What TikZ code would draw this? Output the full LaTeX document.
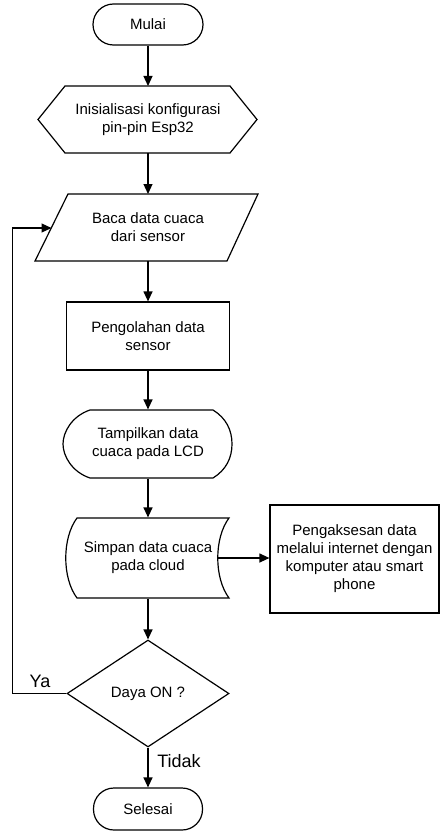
\documentclass[tikz,border=0pt]{standalone}
\usepackage{fontspec}
\setmainfont{Liberation Sans}
\usetikzlibrary{arrows.meta,shapes.geometric}
\begin{document}
\begin{tikzpicture}[x=1pt,y=-1pt,line width=1.2pt,
  txt/.style={inner sep=0pt,align=center,font=\fontsize{15}{18}\selectfont},
  lbl/.style={inner sep=0pt,font=\fontsize{18}{21}\selectfont},
  sz/.style 2 args={minimum width=#1,minimum height=#2},
  term/.style={txt,draw,rounded corners=20.5pt},
  arr/.style={-{Triangle[length=10pt,width=9pt]}}]
\useasboundingbox (0,0) rectangle (440,832);
% nodes
\node[term,sz={110pt}{41pt}] (mulai) at (148,24.5) {Mulai};
\node[txt,sz={219pt}{67pt}] (init) at (148,119.5) {Inisialisasi konfigurasi\\pin-pin Esp32};
\draw (38,119.5) -- (65,86) -- (230,86) -- (257,119.5) -- (230,153) -- (65,153) -- cycle;
\node[txt,sz={223pt}{67pt}] (baca) at (148,227.5) {Baca data cuaca\\dari sensor};
\draw (68,194) -- (258,194) -- (227,261) -- (35,261) -- cycle;
\coordinate (bacaL) at (51.5,228);
\node[txt,draw,sz={163pt}{68pt}] (olah) at (148,336) {Pengolahan data\\sensor};
\node[txt,sz={169pt}{68pt}] (lcd) at (148,444) {Tampilkan data\\cuaca pada LCD};
\draw (90,410) -- (213,410) .. controls (226,418) and (232,430) .. (232,444)
      .. controls (232,458) and (226,470) .. (213,478) -- (90,478)
      .. controls (72,472) and (63,456) .. (63,444)
      .. controls (63,432) and (72,416) .. (90,410) -- cycle;
\node[txt,sz={164pt}{80pt}] (store) at (148,558) {Simpan data cuaca\\pada cloud};
\draw (77,518) -- (229,518) .. controls (214,538) and (214,578) .. (229,598)
      -- (77,598) .. controls (62,578) and (62,538) .. (77,518) -- cycle;
\coordinate (storeR) at (218,558);
\node[txt,draw,sz={169pt}{108pt}] (akses) at (354.5,559) {Pengaksesan data\\melalui internet dengan\\komputer atau smart\\phone};
\node[txt,draw,diamond,aspect=1.514,sz={162pt}{107pt}] (daya) at (148,693.5) {Daya ON ?};
\node[term,sz={109pt}{42pt}] (selesai) at (148,809) {Selesai};
\node[lbl] (ya) at (40,681) {Ya};
\node[lbl] (tidak) at (179,761) {Tidak};
% connectors
\draw[arr] (mulai) -- (mulai.south |- 0,86);
\draw[arr] (mulai.south |- 0,153) -- (mulai.south |- 0,194);
\draw[arr] (mulai.south |- 0,261) -- (olah.north);
\draw[arr] (olah.south) -- (lcd.north);
\draw[arr] (lcd.south) -- (store.north);
\draw[arr] (store.south) -- (daya.north);
\draw[arr] (daya.south) -- (selesai.north);
\draw[arr] (storeR) -- (storeR -| akses.west);
\draw[arr] (daya.west) -- ++(-54,0) |- (bacaL);
\end{tikzpicture}
\end{document}
